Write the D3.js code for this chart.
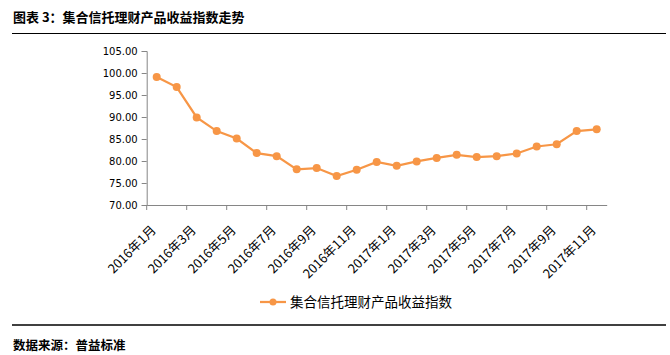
<!DOCTYPE html>
<html><head><meta charset="utf-8">
<script src="https://cdn.jsdelivr.net/npm/d3@7"></script>
<style>body{margin:0;background:#fff}svg{display:block}</style>
</head><body>
<script>
const categories = ["2016年1月","2016年2月","2016年3月","2016年4月","2016年5月","2016年6月","2016年7月","2016年8月","2016年9月","2016年10月","2016年11月","2016年12月","2017年1月","2017年2月","2017年3月","2017年4月","2017年5月","2017年6月","2017年7月","2017年8月","2017年9月","2017年10月","2017年11月"];
const values = [99.1,96.8,89.9,86.8,85.1,81.8,81.1,78.1,78.4,76.6,78.0,79.8,78.9,79.9,80.7,81.4,80.9,81.1,81.7,83.3,83.8,86.8,87.2];
const yTicks = [70,75,80,85,90,95,100,105];
const seriesName = "集合信托理财产品收益指数";
const titleText = "图表 3：集合信托理财产品收益指数走势";
const sourceText = "数据来源：普益标准";

const W=670,H=355;
const svg=d3.select("body").append("svg").attr("width",W).attr("height",H);
svg.append("rect").attr("width",W).attr("height",H).attr("fill","#fff");
const cjk="'Noto Sans CJK SC', sans-serif";
const orange="#F79646";

svg.append("text").attr("x",13).attr("y",22).attr("font-family",cjk).attr("font-weight","bold")
  .attr("font-size",13).attr("fill","#000").text(titleText);
svg.append("line").attr("x1",12).attr("x2",666).attr("y1",33.5).attr("y2",33.5).attr("stroke","#000").attr("stroke-width",1);

const x=d3.scaleBand().domain(categories).range([146.7,606.7]);
const y=d3.scaleLinear().domain([70,105]).range([205,51]);

const g=svg.append("g");
// y axis
const yAxis=g.append("g").attr("transform","translate(146.7,0)")
  .call(d3.axisLeft(y).tickValues(yTicks).tickFormat(d3.format(".2f")).tickSizeOuter(0).tickSize(5));
yAxis.select(".domain").attr("stroke","#868686");
yAxis.selectAll(".tick line").attr("stroke","#868686");
yAxis.selectAll(".tick text").attr("font-family","'DejaVu Sans', sans-serif").attr("font-size",10).attr("fill","#000").attr("x",-9);

// x axis
const xAxis=g.append("g").attr("transform","translate(0,205)")
  .call(d3.axisBottom(x).tickValues([]).tickSizeOuter(0));
xAxis.select(".domain").attr("stroke","#868686");
const bIdx=d3.range(0,categories.length,2);
xAxis.selectAll(".btick").data(bIdx).enter().append("line")
  .attr("x1",i=>x(categories[i])).attr("x2",i=>x(categories[i]))
  .attr("y1",0).attr("y2",5).attr("stroke","#868686");
const lbl=categories.filter((d,i)=>i%2===0);
xAxis.selectAll(".lbl").data(lbl).enter().append("text")
  .attr("transform",d=>`translate(${x(d)+x.bandwidth()/2},${26}) rotate(-45)`)
  .attr("text-anchor","end").attr("font-family",cjk).attr("font-size",12.8).attr("fill","#000")
  .text(d=>d);

// line
const line=d3.line().x((d,i)=>x(categories[i])+x.bandwidth()/2).y(d=>y(d));
g.append("path").datum(values).attr("d",line).attr("fill","none").attr("stroke",orange).attr("stroke-width",2.25);
g.selectAll(".pt").data(values).enter().append("circle")
  .attr("cx",(d,i)=>x(categories[i])+x.bandwidth()/2).attr("cy",d=>y(d)).attr("r",4).attr("fill",orange);

// legend
const lg=svg.append("g").attr("transform","translate(0,302)");
lg.append("line").attr("x1",260).attr("x2",286).attr("y1",0).attr("y2",0).attr("stroke",orange).attr("stroke-width",2.25);
lg.append("circle").attr("cx",273).attr("cy",0).attr("r",3.5).attr("fill",orange);
lg.append("text").attr("x",290).attr("y",0).attr("dy","0.35em").attr("font-family",cjk).attr("font-size",13.5).attr("fill","#000").text(seriesName);

svg.append("line").attr("x1",12).attr("x2",666).attr("y1",325).attr("y2",325).attr("stroke","#000").attr("stroke-width",1.5);
svg.append("text").attr("x",13).attr("y",349.5).attr("font-family",cjk).attr("font-weight","bold")
  .attr("font-size",12.5).attr("fill","#000").text(sourceText);
</script>
</body></html>
